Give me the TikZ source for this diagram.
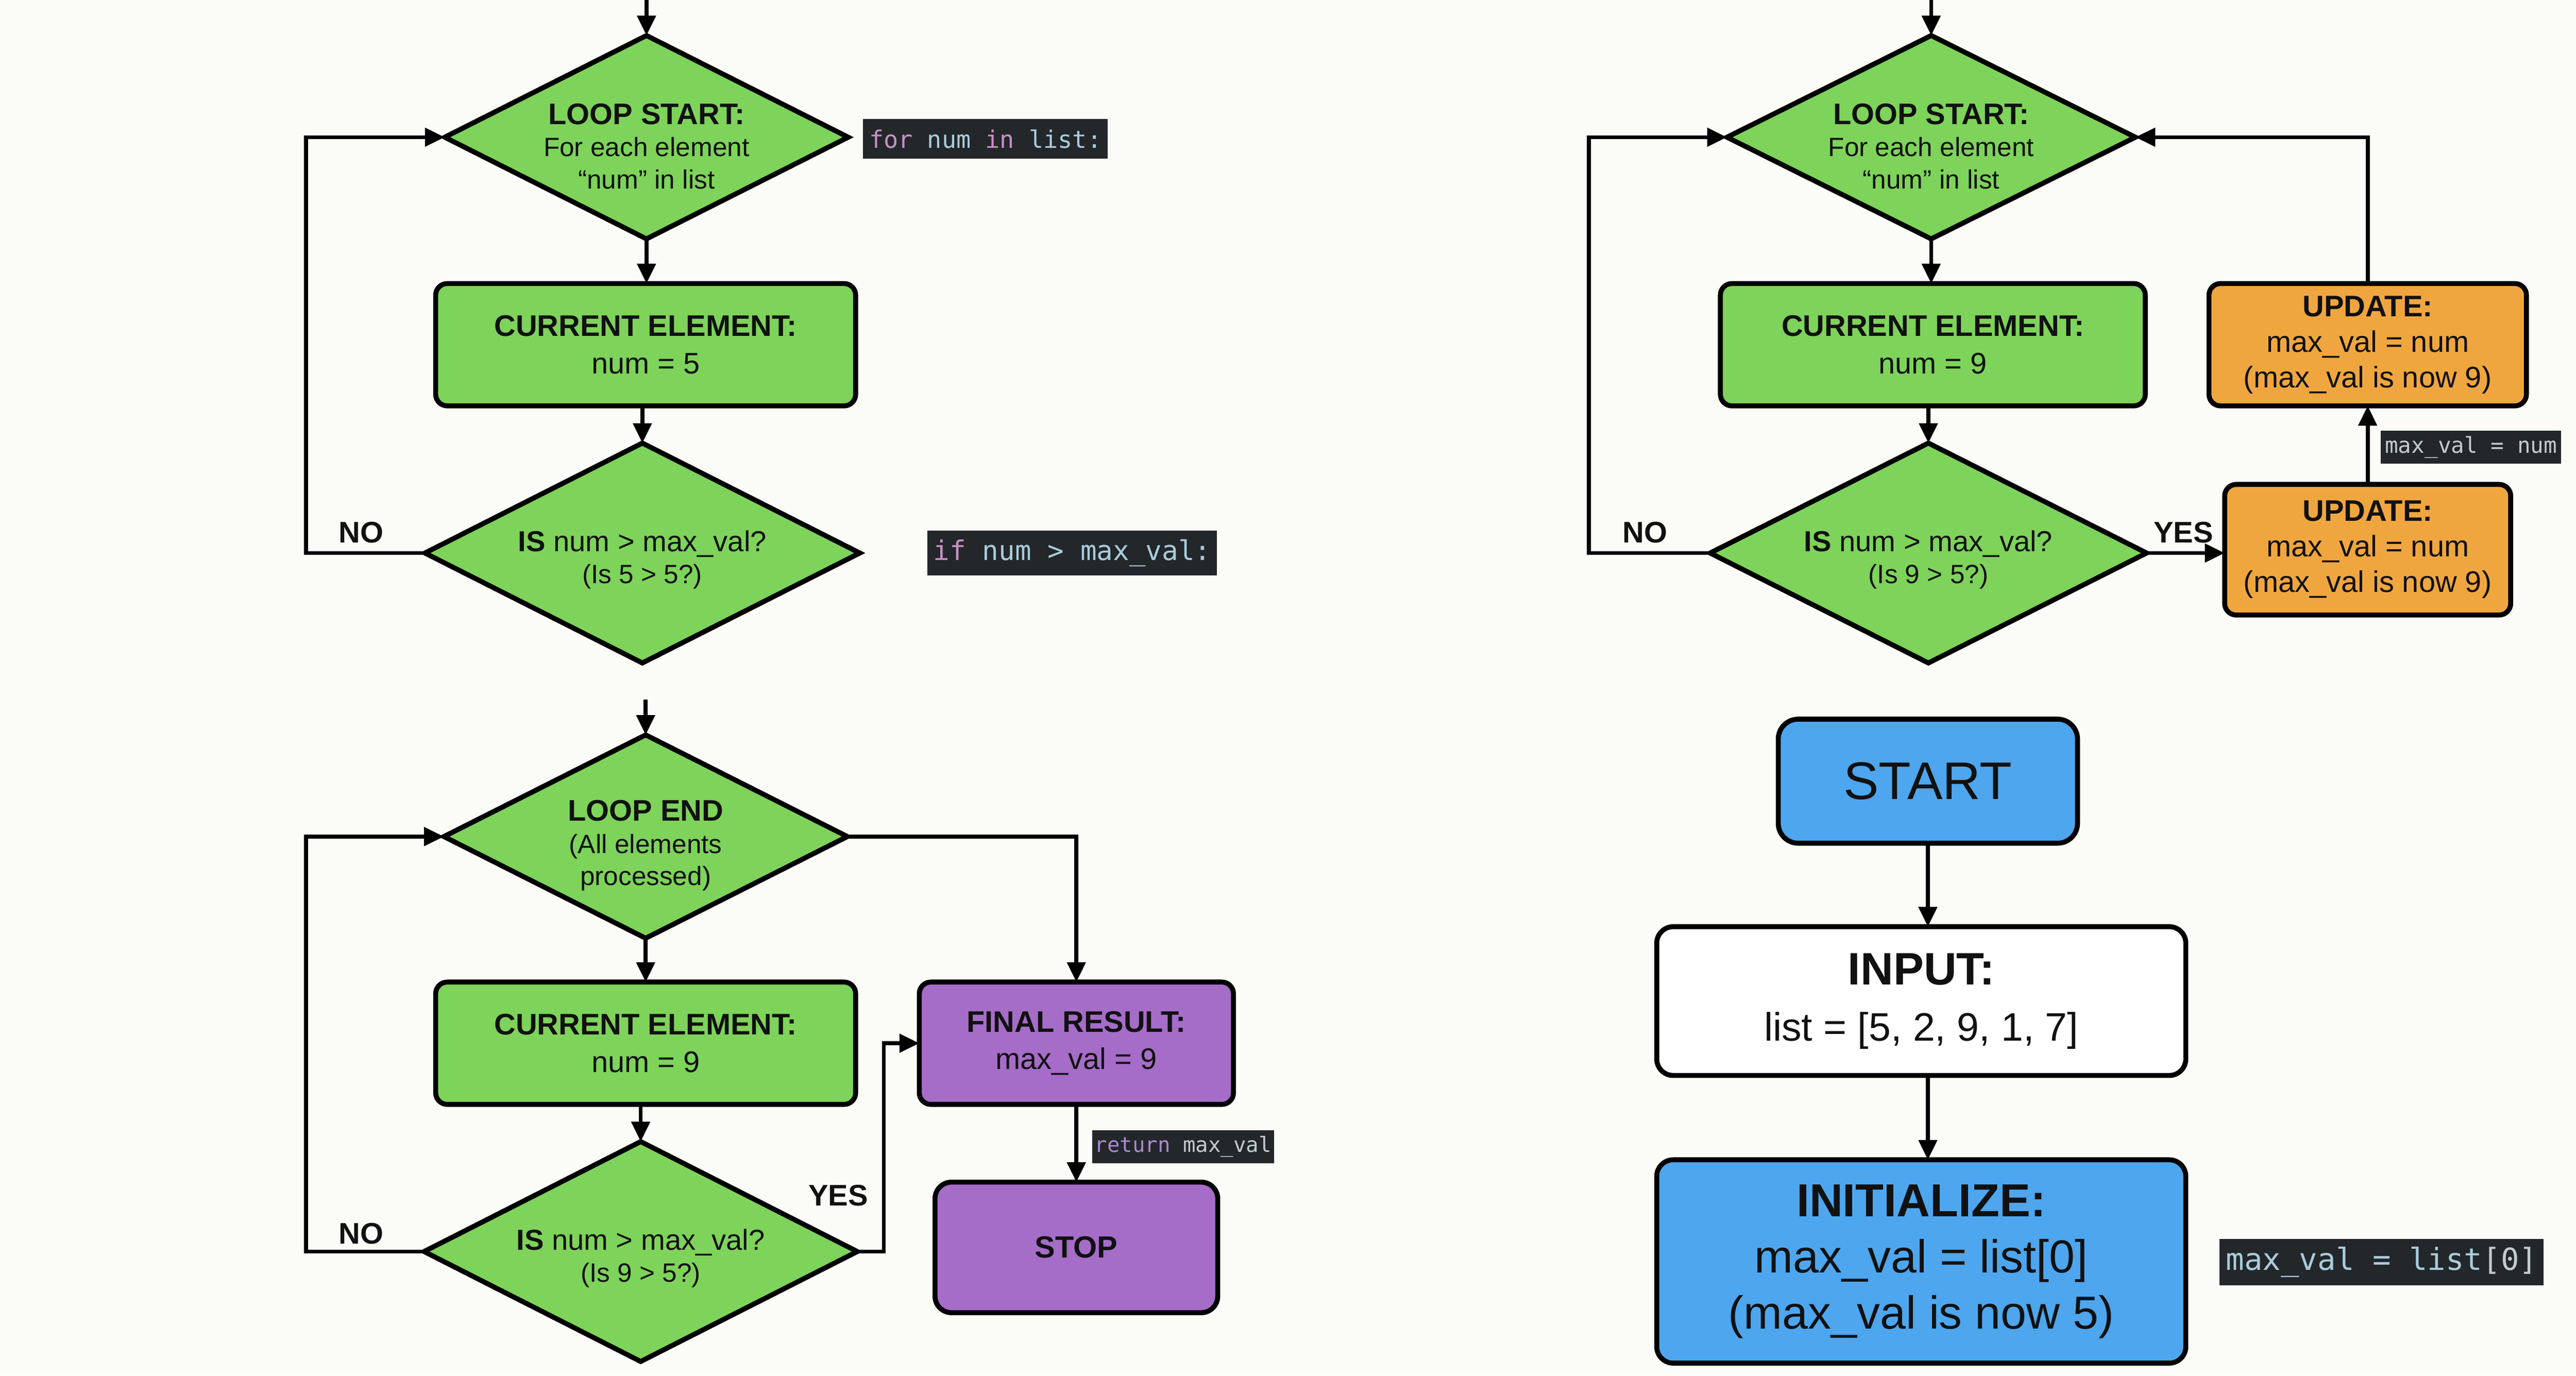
\documentclass[tikz,border=0pt]{standalone}
\usepackage{fontspec}
\setmainfont{Liberation Sans}
\newfontfamily\codefont{DejaVu Sans Mono}
\usetikzlibrary{shapes.geometric,arrows.meta,calc}
\definecolor{bg}{HTML}{FBFBF8}
\definecolor{grn}{HTML}{7ED35A}
\definecolor{org}{HTML}{F0A63F}
\definecolor{pur}{HTML}{A56CC8}
\definecolor{blu}{HTML}{4DA6EE}
\definecolor{txt}{HTML}{111111}
\definecolor{codebg}{HTML}{23272A}
\definecolor{cid}{HTML}{A8CCDC}
\definecolor{ckw}{HTML}{C98FC4}
\definecolor{cret}{HTML}{A98ACF}
\definecolor{cgr}{HTML}{C2CBCF}
\begin{document}
\begin{tikzpicture}[x=1pt,y=-1pt,
  every node/.style={inner sep=0pt, outer sep=0pt, text=txt},
  box/.style={draw=black, line width=3pt, rounded corners=7pt, align=center},
  dia/.style={draw=black, line width=3pt, diamond, fill=grn},
  dtext/.style={align=center, font=\fontsize{16}{19.5}\selectfont},
  lbl/.style={font=\bfseries\fontsize{18}{20}\selectfont},
  code/.style={fill=codebg, text=cid},
  arr/.style={draw=black, line width=2.4pt, -{Triangle[length=12pt,width=11pt]}},
  ln/.style={draw=black, line width=2.4pt}]
\fill[bg] (0,0) rectangle (1558,832);
\useasboundingbox (0,0) rectangle (1558,832);

% ---------------- top-left panel ----------------
\coordinate (in1) at (391,0);
\coordinate (no1) at (185,0);
\node[dia, minimum width=244pt, minimum height=123pt] (LS1) at (391,83) {};
\node[dtext] (LS1t) at (391,88.5) {{\bfseries\fontsize{18}{19.5}\selectfont LOOP START:}\\For each element\\“num” in list};
\node[box, fill=grn, minimum width=254pt, minimum height=74pt, font=\fontsize{18}{22.5}\selectfont] (CE1) at (390.5,208.5) {{\bfseries CURRENT ELEMENT:}\\num = 5};
\node[dia, minimum width=263pt, minimum height=133pt] (IS1) at (388.5,334.5) {};
\node[dtext] (IS1t) at (388.5,338.5) {{\fontsize{17.5}{19.5}\selectfont\textbf{IS} num > max\_val?}\\(Is 5 > 5?)};
\node[lbl] (NO1) at (218.5,322) {NO};
\node[code, minimum width=148pt, minimum height=24pt, font=\codefont\fontsize{14.6}{16}\selectfont] (C1) at (596,84) {\textcolor{ckw}{for} num \textcolor{ckw}{in} list:};
\node[code, minimum width=175pt, minimum height=27pt, font=\codefont\fontsize{16.4}{18}\selectfont] (C2) at (648.5,334.5) {\textcolor{ckw}{if} num > max\_val:};
\draw[arr] (in1) -- (LS1.north);
\draw[arr] (LS1.south) -- (LS1.south |- CE1.north);
\draw[arr] (IS1.north |- CE1.south) -- (IS1.north);
\draw[arr] (IS1.west) -- (no1 |- IS1.west) -- (no1 |- LS1.west) -- (LS1.west);

% ---------------- top-right panel ----------------
\coordinate (in2) at (1168,0);
\coordinate (no2) at (961,0);
\node[dia, minimum width=247pt, minimum height=123pt] (LS2) at (1168,83) {};
\node[dtext] (LS2t) at (1168,88.5) {{\bfseries\fontsize{18}{19.5}\selectfont LOOP START:}\\For each element\\“num” in list};
\node[box, fill=grn, minimum width=257pt, minimum height=74pt, font=\fontsize{18}{22.5}\selectfont] (CE2) at (1169,208.5) {{\bfseries CURRENT ELEMENT:}\\num = 9};
\node[dia, minimum width=264pt, minimum height=133pt] (IS2) at (1166.3,334.5) {};
\node[dtext] (IS2t) at (1166.3,338.5) {{\fontsize{17.5}{19.5}\selectfont\textbf{IS} num > max\_val?}\\(Is 9 > 5?)};
\node[lbl] (NO2) at (995,322) {NO};
\node[lbl] (YES2) at (1320.5,322) {YES};
\node[box, fill=org, minimum width=192pt, minimum height=74pt, font=\fontsize{18}{21.5}\selectfont] (UPD1) at (1432,208.5) {{\bfseries UPDATE:}\\max\_val = num\\(max\_val is now 9)};
\node[box, fill=org, minimum width=173pt, minimum height=79pt, font=\fontsize{18}{21.5}\selectfont] (UPD2) at (1432,332.5) {{\bfseries UPDATE:}\\max\_val = num\\(max\_val is now 9)};
\node[code, minimum width=109pt, minimum height=20pt, text=cgr, font=\codefont\fontsize{13.3}{15}\selectfont] (C3) at (1494.5,270.5) {max\_val = num};
\draw[arr] (in2) -- (LS2.north);
\draw[arr] (LS2.south) -- (LS2.south |- CE2.north);
\draw[arr] (IS2.north |- CE2.south) -- (IS2.north);
\draw[arr] (IS2.west) -- (no2 |- IS2.west) -- (no2 |- LS2.west) -- (LS2.west);
\draw[arr] (IS2.east) -- (IS2.east -| UPD2.west);
\draw[arr] (UPD2.north) -- (UPD1.south);
\draw[arr] (UPD1.north) -- (UPD1.north |- LS2.east) -- (LS2.east);

% ---------------- bottom-left panel ----------------
\coordinate (in3) at (390.5,423);
\coordinate (no3) at (185,0);
\coordinate (yes3) at (534.5,0);
\node[dia, minimum width=244pt, minimum height=123pt] (LE) at (390.5,506) {};
\node[dtext] (LEt) at (390.5,511.5) {{\bfseries\fontsize{18}{19.5}\selectfont LOOP END}\\(All elements\\processed)};
\node[box, fill=grn, minimum width=254pt, minimum height=74pt, font=\fontsize{18}{22.5}\selectfont] (CE3) at (390.5,631) {{\bfseries CURRENT ELEMENT:}\\num = 9};
\node[dia, minimum width=262pt, minimum height=133pt] (IS3) at (387.5,757) {};
\node[dtext] (IS3t) at (387.5,761) {{\fontsize{17.5}{19.5}\selectfont\textbf{IS} num > max\_val?}\\(Is 9 > 5?)};
\node[lbl] (NO3) at (218.5,746) {NO};
\node[lbl] (YES3) at (507,723) {YES};
\node[box, fill=pur, minimum width=190pt, minimum height=74pt, font=\fontsize{18}{22.5}\selectfont] (FR) at (651,631) {{\bfseries FINAL RESULT:}\\max\_val = 9};
\node[box, fill=pur, rounded corners=10pt, minimum width=171pt, minimum height=79pt, font=\bfseries\fontsize{18.5}{20}\selectfont] (STOP) at (651,754.5) {STOP};
\node[code, minimum width=110pt, minimum height=20pt, text=cgr, font=\codefont\fontsize{12.7}{14}\selectfont] (C4) at (715.5,693.5) {\textcolor{cret}{return} max\_val};
\draw[arr] (in3) -- (LE.north);
\draw[arr] (LE.south) -- (LE.south |- CE3.north);
\draw[arr] (IS3.north |- CE3.south) -- (IS3.north);
\draw[arr] (IS3.west) -- (no3 |- IS3.west) -- (no3 |- LE.west) -- (LE.west);
\draw[arr] (IS3.east) -- (yes3 |- IS3.east) -- (yes3 |- FR.west) -- (FR.west);
\draw[arr] (LE.east) -- (LE.east -| FR.north) -- (FR.north);
\draw[arr] (FR.south) -- (STOP.north);

% ---------------- bottom-right panel ----------------
\node[box, fill=blu, rounded corners=12pt, minimum width=181pt, minimum height=75pt, font=\fontsize{32}{34}\selectfont] (START) at (1166,472.5) {START};
\node[box, fill=white, rounded corners=10pt, minimum width=320pt, minimum height=90pt, font=\fontsize{24}{34}\selectfont] (INPUT) at (1162,605.5) {{\bfseries\fontsize{27.5}{34}\selectfont INPUT:}\\list = [5, 2, 9, 1, 7]};
\node[box, fill=blu, rounded corners=10pt, minimum width=320pt, minimum height=123pt, font=\fontsize{28}{34}\selectfont] (INIT) at (1162,763) {{\bfseries INITIALIZE:}\\max\_val = list[0]\\(max\_val is now 5)};
\node[code, minimum width=196pt, minimum height=28pt, font=\codefont\fontsize{18.4}{20}\selectfont] (C5) at (1440.5,763.5) {max\_val = list\textcolor{cgr}{[0]}};
\draw[arr] (START.south) -- (START.south |- INPUT.north);
\draw[arr] (START.south |- INPUT.south) -- (START.south |- INIT.north);
\end{tikzpicture}
\end{document}
